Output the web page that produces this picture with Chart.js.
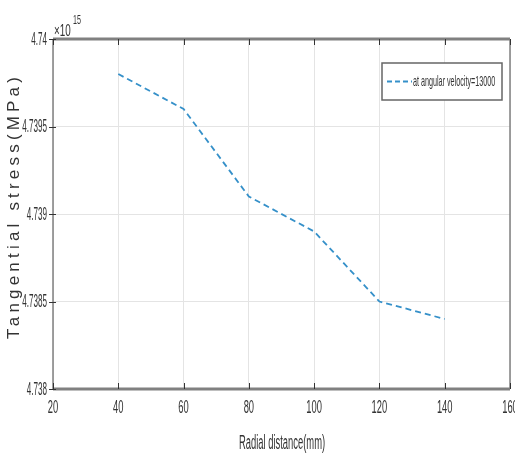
<!DOCTYPE html>
<html><head><meta charset="utf-8">
<script src="https://cdn.jsdelivr.net/npm/chart.js@4.4.0/dist/chart.umd.min.js"></script>
<style>html,body{margin:0;padding:0;background:#fff}#wrap{width:515px;height:458px}</style>
</head><body><div id="wrap"><canvas id="c" width="515" height="458"></canvas></div>
<script>
const radialDistance = [40, 60, 80, 100, 120, 140];
const tangentialStress = [4.7398, 4.7396, 4.7391, 4.7389, 4.7385, 4.7384];
const xTickValues = [20, 40, 60, 80, 100, 120, 140, 160];
const yTickValues = [4.738, 4.7385, 4.739, 4.7395, 4.74];
const yTickLabels = ['4.738', '4.7385', '4.739', '4.7395', '4.74'];
const seriesLabel = 'at angular velocity=13000';
const xTitle = 'Radial distance(mm)';
const yTitle = 'Tangential stress(MPa)';

const FAM = '"Liberation Sans", Arial, sans-serif';
const TXT = '#333333';
const lineColor = '#3590c9';

function narrow(ctx, text, x, y, size, sx, align, baseline) {
  ctx.save();
  ctx.translate(x, y);
  ctx.scale(sx, 1);
  ctx.font = size + 'px ' + FAM;
  ctx.textAlign = align;
  ctx.textBaseline = baseline;
  ctx.fillStyle = TXT;
  ctx.fillText(text, 0, 0);
  ctx.restore();
}

const decor = {
  id: 'decor',
  afterDraw(chart) {
    const ctx = chart.ctx, a = chart.chartArea;
    const xs = chart.scales.x, ys = chart.scales.y;
    ctx.save();
    // frame
    ctx.strokeStyle = '#808080';
    ctx.lineWidth = 3;
    ctx.beginPath(); ctx.moveTo(a.left, a.top); ctx.lineTo(a.right, a.top); ctx.stroke();
    ctx.beginPath(); ctx.moveTo(a.left, a.bottom); ctx.lineTo(a.right, a.bottom); ctx.stroke();
    ctx.lineWidth = 1.5;
    ctx.beginPath(); ctx.moveTo(a.left, a.top); ctx.lineTo(a.left, a.bottom); ctx.stroke();
    ctx.beginPath(); ctx.moveTo(a.right, a.top); ctx.lineTo(a.right, a.bottom); ctx.stroke();
    // tick marks
    ctx.strokeStyle = '#333';
    ctx.lineWidth = 1;
    xTickValues.forEach(v => {
      const px = Math.round(xs.getPixelForValue(v)) + 0.5;
      ctx.beginPath(); ctx.moveTo(px, a.top); ctx.lineTo(px, a.top + 6); ctx.stroke();
      ctx.beginPath(); ctx.moveTo(px, a.bottom); ctx.lineTo(px, a.bottom - 6); ctx.stroke();
    });
    yTickValues.forEach(v => {
      const py = Math.round(ys.getPixelForValue(v)) + 0.5;
      ctx.beginPath(); ctx.moveTo(a.left - 4, py); ctx.lineTo(a.left + 3, py); ctx.stroke();
    });
    // tick labels
    xTickValues.forEach(v => {
      narrow(ctx, String(v), xs.getPixelForValue(v), a.bottom + 19, 18, 0.52, 'center', 'middle');
    });
    yTickValues.forEach((v, i) => {
      narrow(ctx, yTickLabels[i], a.left - 6, ys.getPixelForValue(v) + 1, 18, 0.45, 'right', 'middle');
    });
    // exponent
    narrow(ctx, '\u00d710', a.left + 1, a.top - 3, 17, 0.58, 'left', 'alphabetic');
    narrow(ctx, '15', a.left + 20, a.top - 15, 13, 0.55, 'left', 'alphabetic');
    // x title
    narrow(ctx, xTitle, (a.left + a.right) / 2 + 0.5, 443, 20, 0.47, 'center', 'middle');
    // y title
    ctx.save();
    ctx.translate(14, 208);
    ctx.rotate(-Math.PI / 2);
    ctx.font = '17px ' + FAM;
    const w = ctx.measureText(yTitle).width;
    const sp = (266 - w) / yTitle.length;
    ctx.letterSpacing = sp.toFixed(2) + 'px';
    ctx.textAlign = 'center';
    ctx.textBaseline = 'middle';
    ctx.fillStyle = TXT;
    ctx.fillText(yTitle, sp / 2, 0);
    ctx.restore();
    // legend
    const lx = 382, ly = 63, lw = 120, lh = 37;
    ctx.fillStyle = '#fff';
    ctx.fillRect(lx, ly, lw, lh);
    ctx.strokeStyle = '#666';
    ctx.lineWidth = 1.5;
    ctx.strokeRect(lx, ly, lw, lh);
    ctx.strokeStyle = lineColor;
    ctx.lineWidth = 1.8;
    ctx.setLineDash([5, 3]);
    ctx.beginPath(); ctx.moveTo(lx + 5, ly + lh / 2); ctx.lineTo(lx + 30, ly + lh / 2); ctx.stroke();
    ctx.setLineDash([]);
    narrow(ctx, seriesLabel, lx + 31, ly + lh / 2, 15, 0.48, 'left', 'middle');
    ctx.restore();
  }
};

new Chart(document.getElementById('c'), {
  type: 'line',
  data: {
    datasets: [{
      label: seriesLabel,
      data: radialDistance.map((x, i) => ({ x: x, y: tangentialStress[i] })),
      borderColor: lineColor,
      borderWidth: 1.8,
      borderDash: [6, 4],
      pointRadius: 0,
      fill: false,
      tension: 0
    }]
  },
  options: {
    responsive: false,
    animation: false,
    layout: { padding: { left: 0, top: 39, right: 5, bottom: 0 } },
    plugins: { legend: { display: false }, tooltip: { enabled: false } },
    scales: {
      x: {
        type: 'linear', min: 20, max: 160,
        afterBuildTicks: s => { s.ticks = xTickValues.map(v => ({ value: v })); },
        afterFit: s => { s.height = 69; },
        grid: { color: '#e4e4e4', drawTicks: false, lineWidth: 1 },
        border: { display: false },
        ticks: { display: false }
      },
      y: {
        type: 'linear', min: 4.738, max: 4.74,
        afterBuildTicks: s => { s.ticks = yTickValues.map(v => ({ value: v })); },
        afterFit: s => { s.width = 53; },
        grid: { color: '#e4e4e4', drawTicks: false, lineWidth: 1 },
        border: { display: false },
        ticks: { display: false }
      }
    }
  },
  plugins: [decor]
});
</script>
</body></html>
